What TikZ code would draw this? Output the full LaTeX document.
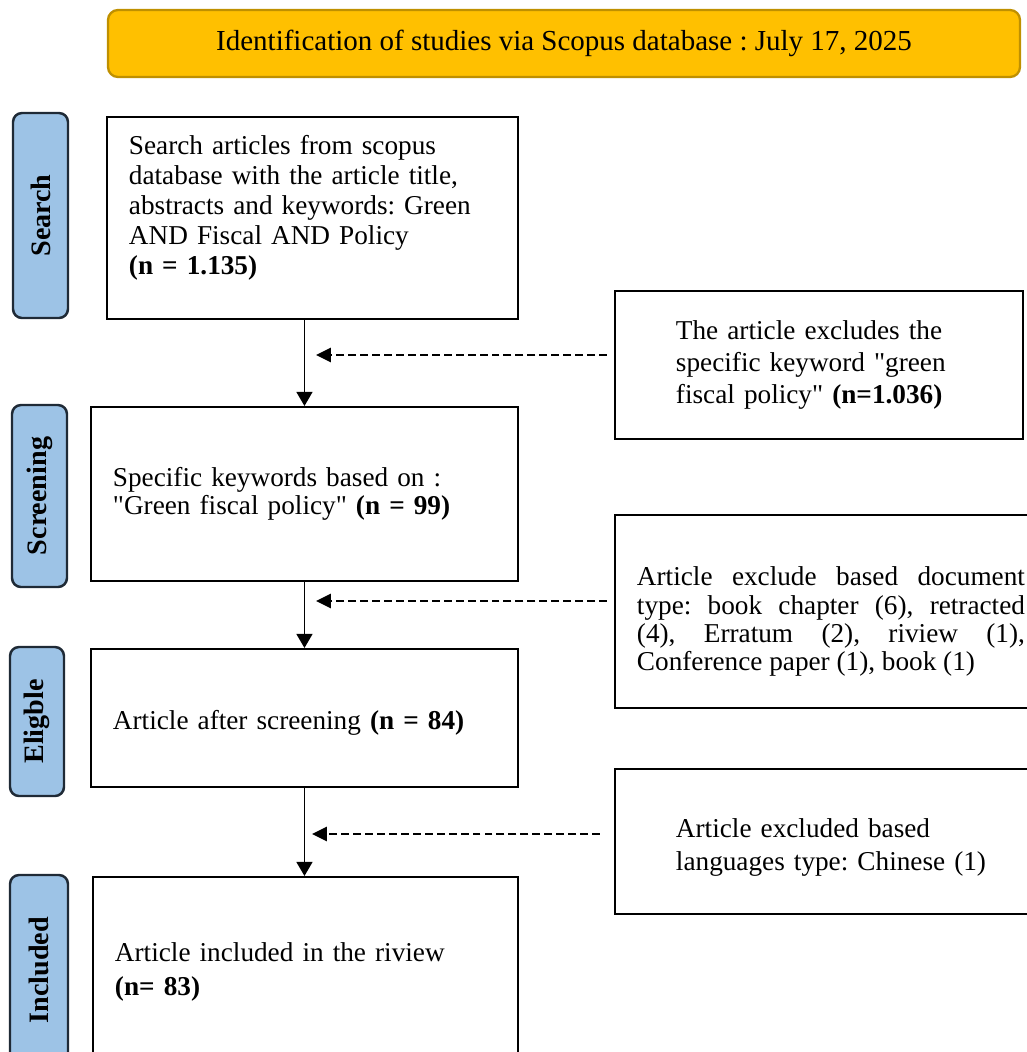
\documentclass[tikz,border=0pt]{standalone}
\usepackage{fontspec}
\setmainfont{Liberation Serif}
\usepackage{tikz}
\usetikzlibrary{calc,positioning,arrows.meta,shapes}
\newlength{\pxu}
\setlength{\pxu}{0.02cm}
\definecolor{titlefill}{HTML}{FFC000}
\definecolor{titleline}{HTML}{BF9000}
\definecolor{stagefill}{HTML}{9DC3E6}
\definecolor{stageline}{HTML}{1F2A36}
\frenchspacing

\begin{document}
\begin{tikzpicture}[x=\pxu,y=-\pxu,
  title/.style={draw=titleline,fill=titlefill,line width=1.3pt,rounded corners=10\pxu,minimum width=912\pxu,minimum height=67\pxu,font=\fontsize{16.5}{19}\selectfont},
  stage/.style={draw=stageline,fill=stagefill,line width=1.4pt,rounded corners=9\pxu,rotate=90,inner sep=0pt,font=\fontsize{16}{19}\bfseries\selectfont},
  blk/.style={draw,line width=1.1pt,anchor=north west,inner xsep=22\pxu,align=left,font=\fontsize{15.5}{15.8}\selectfont},
  arr/.style={-{Triangle[length=8pt,width=9pt]},line width=1.1pt},
  darr/.style={-{Triangle[length=8.5pt,width=8pt]},line width=1.5pt,dash pattern=on 4.5pt off 2.3pt}]
  \useasboundingbox (0,0) rectangle (1027,1052);

  \node[title] (head) at (564,43.5) {Identification of studies via Scopus database : July 17, 2025};

  % stages on the left
  \node[stage,minimum width=205\pxu,minimum height=55\pxu] (sSearch) at (40.5,215.5) {Search};
  \node[stage,minimum width=182\pxu,minimum height=55\pxu] (sScreen) at (39.5,496) {Screening};
  \node[stage,minimum width=149\pxu,minimum height=54\pxu] (sElig) at (37,721.5) {Eligble};
  \node[stage,minimum width=190\pxu,minimum height=58\pxu] (sIncl) at (39,970) {Included};

  % main column
  \node[blk,minimum width=411\pxu,minimum height=202\pxu,text width=367\pxu,font=\fontsize{15.5}{17}\selectfont] (search) at (106,116)
    {Search articles from scopus\\database with the article title,\\abstracts and keywords: Green\\AND Fiscal AND Policy\\\textbf{(n = 1.135)}\rule[-26\pxu]{0pt}{26\pxu}};
  \node[blk,minimum width=427\pxu,minimum height=174\pxu,text width=383\pxu] (scr) at (90,406)
    {Specific keywords based on :\\\textquotedbl Green fiscal policy\textquotedbl{} \textbf{(n = 99)}};
  \node[blk,minimum width=427\pxu,minimum height=138\pxu,text width=383\pxu] (elig) at (90,648)
    {\rule{0pt}{29\pxu}Article after screening \textbf{(n = 84)}};
  \node[blk,minimum width=425\pxu,minimum height=190\pxu,text width=381\pxu,font=\fontsize{15.5}{19}\selectfont] (incl) at (92,876)
    {Article included in the riview\\\textbf{(n= 83)}};

  % excluded records
  \node[blk,minimum width=408\pxu,minimum height=148\pxu,inner xsep=61\pxu,text width=286\pxu,font=\fontsize{15.5}{18.4}\selectfont] (ex1) at (614,290)
    {The article excludes the\\specific keyword \textquotedbl green\\fiscal policy\textquotedbl{} \textbf{(n=1.036)}};
  \node[blk,minimum width=432\pxu,minimum height=193\pxu,text width=388\pxu,align=justify,font=\fontsize{15.5}{16}\selectfont] (ex2) at (614,514)
    {\rule{0pt}{39\pxu}Article exclude based document\linebreak type: book chapter (6), retracted\linebreak (4), Erratum (2), riview (1),\linebreak Conference paper (1), book (1)};
  \node[blk,minimum width=462\pxu,minimum height=145\pxu,inner xsep=61\pxu,text width=340\pxu,font=\fontsize{15.5}{19}\selectfont] (ex3) at (614,768)
    {\rule{0pt}{31\pxu}Article excluded based\\languages type: Chinese (1)};

  \draw[arr] (search.south -| scr.north) -- (scr.north);
  \draw[arr] (scr.south) -- (elig.north);
  \draw[arr] (elig.south) -- (elig.south |- incl.north);

  \coordinate (c1) at (316,355);
  \coordinate (c2) at (316,601);
  \coordinate (c3) at (312,834);
  \draw[darr,shorten <=4pt] (ex1.west |- c1) -- (c1);
  \draw[darr,shorten <=4pt] (ex2.west |- c2) -- (c2);
  \draw[darr,shorten <=8pt] (ex3.west |- c3) -- (c3);
\end{tikzpicture}
\end{document}
